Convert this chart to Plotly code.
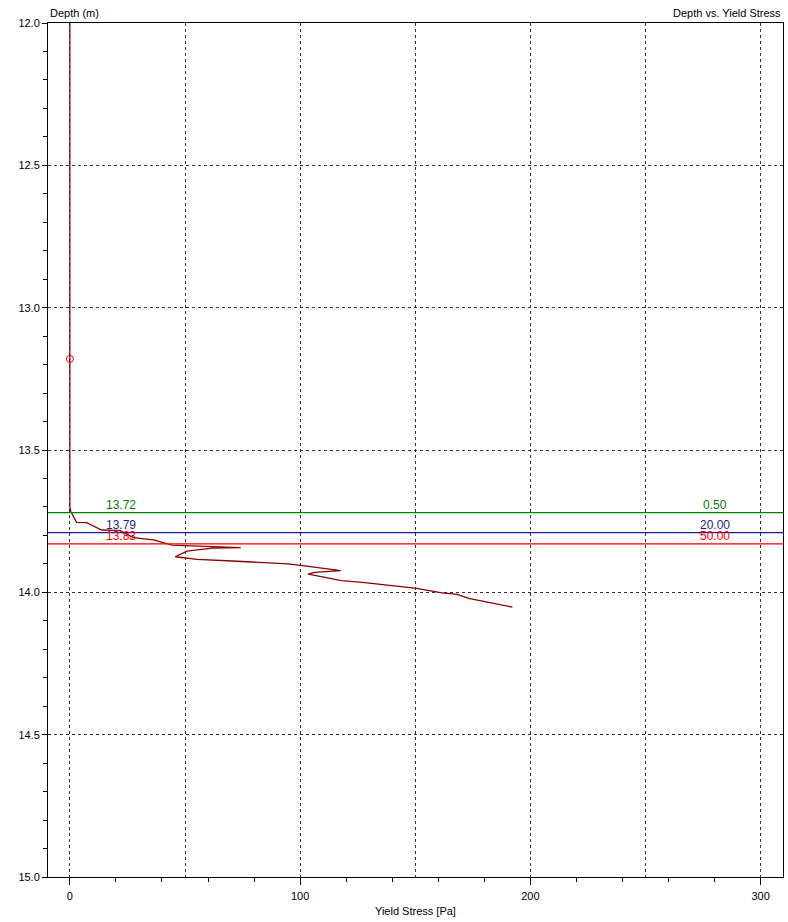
import plotly.graph_objects as go

# Yield stress profile vs. depth
depth_m = [12.0, 13.70, 13.716, 13.754, 13.755, 13.781, 13.783, 13.808, 13.816, 13.834,
           13.837, 13.843, 13.845, 13.855, 13.875, 13.878, 13.884, 13.890, 13.894, 13.898,
           13.900, 13.906, 13.915, 13.924, 13.930, 13.936, 13.945, 13.959, 13.966, 13.974,
           13.986, 14.001, 14.007, 14.021, 14.033, 14.052]
yield_stress_pa = [0.0, 0.0, 0.4, 2.9, 7.3, 13.8, 21.8, 27.6, 36.3, 44.4,
                   52.4, 74.2, 61.8, 50.9, 45.8, 50.2, 55.3, 70.6, 78.6, 86.6,
                   94.6, 101.2, 110.6, 117.6, 106.3, 103.4, 109.2, 117.9, 128.1, 136.8,
                   150.6, 160.9, 168.2, 173.2, 181.2, 192.2]

# Marker point on the profile
marker_depth = [13.18]
marker_stress = [0.0]

# Threshold levels: depth and threshold value
level_depths = [13.72, 13.79, 13.83]
level_values = ["0.50", "20.00", "50.00"]
level_colors = ["#008000", "#1c1c8c", "#ff0000"]
level_label_x = 22.0
value_label_x = 280.0

x_range = [-9.5, 309.7]
y_range = [15.0, 12.0]
x_label_ticks = [0, 50, 100, 150, 200, 250, 300]
x_label_text = ["0", "", "100", "", "200", "", "300"]
x_small_ticks = [20, 40, 60, 80, 120, 140, 160, 180, 220, 240, 260, 280]
x_big_ticks = [0, 100, 200, 300]

FONT = "Liberation Sans"

fig = go.Figure()

fig.add_trace(go.Scatter(
    x=yield_stress_pa, y=depth_m, mode="lines",
    line=dict(color="#8b0000", width=1.3),
    hoverinfo="skip", showlegend=False,
))
fig.add_trace(go.Scatter(
    x=marker_stress, y=marker_depth, mode="markers",
    marker=dict(symbol="circle-open", size=7, color="#ff0000", line=dict(width=1)),
    hoverinfo="skip", showlegend=False,
))
# invisible trace that carries the tick-only overlay axis
fig.add_trace(go.Scatter(
    x=[x_range[0]], y=[y_range[0]], xaxis="x2", mode="markers",
    marker=dict(opacity=0), hoverinfo="skip", showlegend=False,
))

for d, v, c in zip(level_depths, level_values, level_colors):
    fig.add_shape(type="line", xref="x domain", yref="y", x0=0, x1=1, y0=d, y1=d,
                  line=dict(color=c, width=1.2), layer="above")
    fig.add_annotation(x=level_label_x, y=d, xref="x", yref="y", text=f"{d:.2f}",
                       showarrow=False, yanchor="bottom", yshift=-1,
                       font=dict(family=FONT, size=12, color=c))
    fig.add_annotation(x=value_label_x, y=d, xref="x", yref="y", text=v,
                       showarrow=False, yanchor="bottom", yshift=-1,
                       font=dict(family=FONT, size=12, color=c))

fig.add_annotation(x=0, y=1.0117, xref="paper", yref="paper", text="Depth (m)",
                   showarrow=False, xanchor="left", yanchor="middle",
                   font=dict(family=FONT, size=11, color="black"))
fig.add_annotation(x=1, y=1.0117, xref="paper", yref="paper", text="Depth vs. Yield Stress",
                   showarrow=False, xanchor="right", yanchor="middle",
                   font=dict(family=FONT, size=11, color="black"))
fig.add_annotation(x=0.5, y=-0.0398, xref="paper", yref="paper", text="Yield Stress [Pa]",
                   showarrow=False, xanchor="center", yanchor="middle",
                   font=dict(family=FONT, size=11, color="black"))

fig.update_layout(
    width=788, height=922,
    margin=dict(l=48, r=5, t=23, b=45),
    paper_bgcolor="white", plot_bgcolor="white",
    font=dict(family=FONT, size=11, color="black"),
    xaxis=dict(
        range=x_range, tickmode="array", tickvals=x_label_ticks, ticktext=x_label_text,
        ticks="", ticklabelstandoff=9,
        showgrid=True, gridcolor="#303030", griddash="3px,3px", gridwidth=1,
        showline=True, linecolor="black", linewidth=1, mirror=True,
        zeroline=False, fixedrange=True,
    ),
    xaxis2=dict(
        range=x_range, overlaying="x", anchor="y", side="bottom",
        tickmode="array", tickvals=x_big_ticks, ticks="outside", ticklen=7,
        tickcolor="black", showticklabels=False, showgrid=False, zeroline=False,
        minor=dict(tickmode="array", tickvals=x_small_ticks, ticks="outside",
                   ticklen=4, tickcolor="black", showgrid=False),
        fixedrange=True,
    ),
    yaxis=dict(
        range=y_range, tick0=12.0, dtick=0.5, tickformat=".1f",
        ticks="outside", ticklen=5, tickcolor="black",
        minor=dict(dtick=0.1, ticks="outside", ticklen=4, tickcolor="black", showgrid=False),
        showgrid=True, gridcolor="#303030", griddash="3px,3px", gridwidth=1,
        showline=True, linecolor="black", linewidth=1, mirror=True,
        zeroline=False, fixedrange=True,
    ),
)

fig.write_html("out.html")
